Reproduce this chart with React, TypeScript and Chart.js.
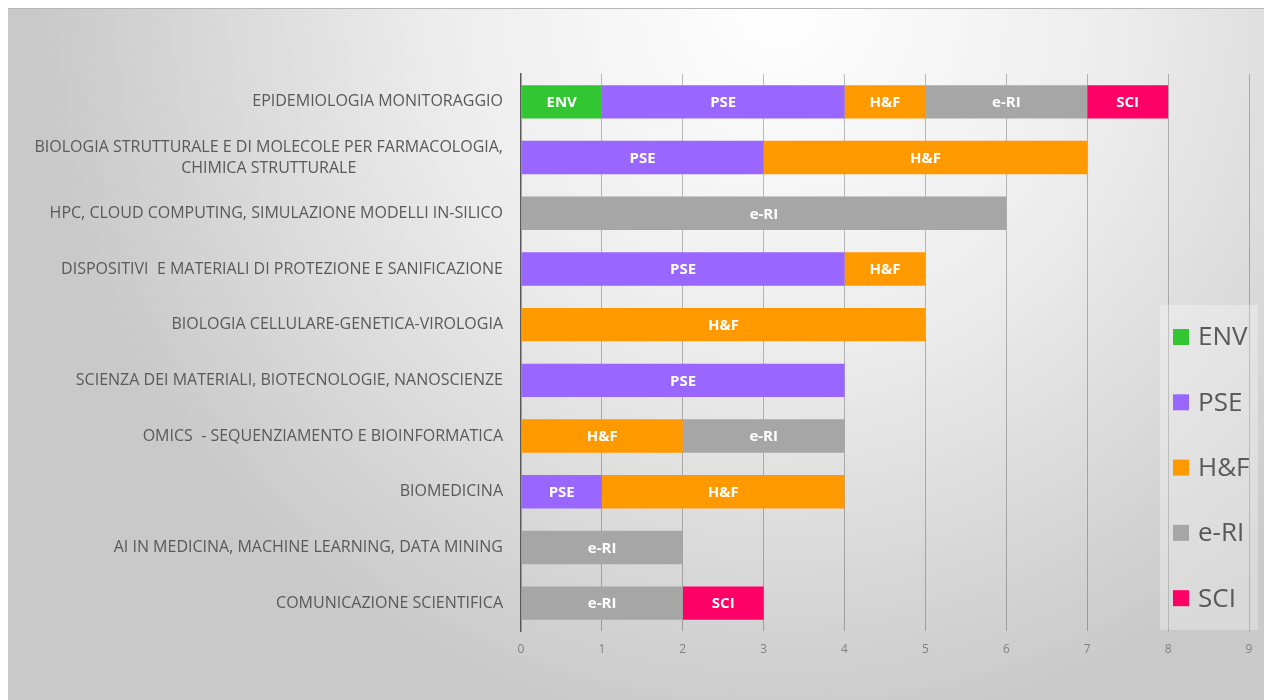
import React, { useEffect, useRef } from 'react';
import { Chart, registerables } from 'chart.js';
Chart.register(...registerables);

const categories: string[][] = [
  ['EPIDEMIOLOGIA MONITORAGGIO'],
  ['BIOLOGIA STRUTTURALE E DI MOLECOLE PER FARMACOLOGIA,', 'CHIMICA STRUTTURALE'],
  ['HPC, CLOUD COMPUTING, SIMULAZIONE MODELLI IN-SILICO'],
  ['DISPOSITIVI  E MATERIALI DI PROTEZIONE E SANIFICAZIONE'],
  ['BIOLOGIA CELLULARE-GENETICA-VIROLOGIA'],
  ['SCIENZA DEI MATERIALI, BIOTECNOLOGIE, NANOSCIENZE'],
  ['OMICS  - SEQUENZIAMENTO E BIOINFORMATICA'],
  ['BIOMEDICINA'],
  ['AI IN MEDICINA, MACHINE LEARNING, DATA MINING'],
  ['COMUNICAZIONE SCIENTIFICA'],
];

const seriesNames = ['ENV', 'PSE', 'H&F', 'e-RI', 'SCI'];
const seriesColors = ['#33c633', '#9966ff', '#ff9900', '#a6a6a6', '#ff0066'];

const envValues = [1, 0, 0, 0, 0, 0, 0, 0, 0, 0];
const pseValues = [3, 3, 0, 4, 0, 4, 0, 1, 0, 0];
const hfValues = [1, 4, 0, 1, 5, 0, 2, 3, 0, 0];
const eriValues = [2, 0, 6, 0, 0, 0, 2, 0, 2, 2];
const sciValues = [1, 0, 0, 0, 0, 0, 0, 0, 0, 1];

const xTickValues = [0, 1, 2, 3, 4, 5, 6, 7, 8, 9];

const FONT = '"Open Sans", sans-serif';

const backgroundPlugin = {
  id: 'bg',
  beforeDraw(chart: any) {
    const { ctx, width, height } = chart;
    ctx.save();
    const g = ctx.createRadialGradient(770, 0, 0, 770, 0, 740);
    g.addColorStop(0, '#ffffff');
    g.addColorStop(0.45, '#ededed');
    g.addColorStop(1, '#c9c9c9');
    ctx.fillStyle = g;
    ctx.fillRect(0, 0, width, height);
    ctx.fillStyle = '#b8b8b8';
    ctx.fillRect(0, 0, width, 1);
    ctx.restore();
  },
};

const labelsPlugin = {
  id: 'customLabels',
  afterDatasetsDraw(chart: any) {
    const { ctx } = chart;
    ctx.save();
    ctx.fillStyle = '#ffffff';
    ctx.font = `bold 15px ${FONT}`;
    ctx.textAlign = 'center';
    ctx.textBaseline = 'middle';
    chart.data.datasets.forEach((ds: any, di: number) => {
      const meta = chart.getDatasetMeta(di);
      meta.data.forEach((el: any, i: number) => {
        const v = ds.data[i];
        if (!v) return;
        const cx = (el.x + el.base) / 2;
        ctx.fillText(ds.label, cx, el.y + 1);
      });
    });
    ctx.restore();
  },
  afterDraw(chart: any) {
    const { ctx, chartArea } = chart;
    const yScale = chart.scales.y;
    ctx.save();
    // category labels
    ctx.fillStyle = '#595959';
    ctx.font = `16px ${FONT}`;
    ctx.textBaseline = 'middle';
    const right = chartArea.left - 18;
    const lineH = 21;
    (chart.data.labels as string[][]).forEach((lines, i) => {
      const cy = yScale.getPixelForTick(i);
      const widths = lines.map((l) => ctx.measureText(l).width);
      const maxW = Math.max(...widths);
      const centerX = right - maxW / 2;
      lines.forEach((l, li) => {
        const y = cy + (li - (lines.length - 1) / 2) * lineH;
        ctx.textAlign = 'center';
        ctx.fillText(l, centerX, y);
      });
    });
    // legend
    const bx = 1152, by = 297, bw = 98, bh = 325;
    ctx.fillStyle = 'rgba(255,255,255,0.3)';
    ctx.fillRect(bx, by, bw, bh);
    ctx.font = `26px ${FONT}`;
    ctx.textAlign = 'left';
    chart.data.datasets.forEach((ds: any, i: number) => {
      const cy = 329 + i * 65.3;
      ctx.fillStyle = ds.backgroundColor;
      ctx.fillRect(1165, cy - 8, 16, 16);
      ctx.fillStyle = '#595959';
      ctx.fillText(ds.label, 1190, cy + 1);
    });
    ctx.restore();
  },
};

export default function App() {
  const ref = useRef<HTMLCanvasElement>(null);
  useEffect(() => {
    if (!ref.current) return;
    const seriesValues = [envValues, pseValues, hfValues, eriValues, sciValues];
    const chart = new Chart(ref.current, {
      type: 'bar',
      data: {
        labels: categories as any,
        datasets: seriesNames.map((name, i) => ({
          label: name,
          data: seriesValues[i],
          backgroundColor: seriesColors[i],
          borderWidth: 0,
          categoryPercentage: 1,
          barPercentage: 0.6,
        })),
      },
      options: {
        indexAxis: 'y',
        animation: false,
        responsive: false,
        maintainAspectRatio: false,
        layout: { padding: { top: 66, right: 23, left: 0, bottom: 0 } },
        plugins: {
          legend: { display: false },
          tooltip: { enabled: false },
        },
        scales: {
          x: {
            stacked: true,
            min: 0,
            max: 9,
            afterBuildTicks: (s: any) => {
              s.ticks = xTickValues.map((v) => ({ value: v }));
            },
            afterFit: (s: any) => {
              s.height = 69;
            },
            grid: {
              color: (c: any) => (c.index === 0 ? 'rgba(0,0,0,0)' : 'rgba(0,0,0,0.25)'),
              drawTicks: false,
              lineWidth: 1,
            },
            border: { display: false },
            ticks: {
              color: '#808080',
              font: { family: '"Open Sans", sans-serif', size: 12 },
              padding: 11,
            },
          },
          y: {
            stacked: true,
            afterFit: (s: any) => {
              s.width = 513;
            },
            grid: { display: false },
            border: { display: true, color: '#595959', width: 1.5 },
            ticks: { display: false },
          },
        },
      },
      plugins: [backgroundPlugin, labelsPlugin],
    });
    return () => chart.destroy();
  }, []);
  return <canvas ref={ref} width={1264} height={692} style={{ display: 'block' }} />;
}
